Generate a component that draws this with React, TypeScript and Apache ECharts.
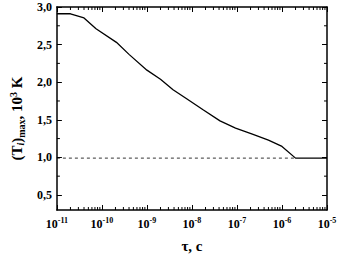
import React, { useEffect, useRef } from "react";
import * as echarts from "echarts";

// τ, s  and (T_i)_max, 10^3 K
const tau = [1e-11, 2e-11, 4e-11, 7.4e-11, 2.1e-10, 4e-10, 1e-9, 2e-9, 3.8e-9, 7.2e-9, 1.8e-8, 4.2e-8, 9.3e-8, 2.2e-7, 5e-7, 1e-6, 2e-6, 1e-5];
const tMax = [2.91, 2.91, 2.855, 2.71, 2.53, 2.37, 2.16, 2.04, 1.9, 1.79, 1.63, 1.485, 1.39, 1.31, 1.23, 1.146, 0.99, 0.99];
const refTau = [1e-11, 2e-6];
const refT = [0.99, 0.99];
const xDecades = [-11, -10, -9, -8, -7, -6, -5];
const minorMult = [2, 3, 4, 5, 6, 7, 8, 9];
const yTicks = [0.5, 1, 1.5, 2, 2.5, 3];
const yMinor = [0.75, 1.25, 1.75, 2.25, 2.75];
const Y_MIN = 0.3;
const Y_MAX = 3.0;
const X_MIN = -11;
const X_MAX = -5;

const FONT = "Liberation Serif";

export default function App() {
  const ref = useRef<HTMLDivElement>(null);
  useEffect(() => {
    if (!ref.current) return;
    const chart = echarts.init(ref.current, undefined, { renderer: "svg" });
    const xMinor: number[][] = [];
    xDecades.slice(0, -1).forEach((d) => minorMult.forEach((m) => xMinor.push([d + Math.log10(m), Y_MIN])));
    const yMinorData = yMinor.map((v) => [X_MIN, v]);
    const lineData = tau.map((t, i) => [Math.log10(t), tMax[i]]);
    const refData = refTau.map((t, i) => [Math.log10(t), refT[i]]);
    const tickStyle = { color: "#000", width: 1 };
    chart.setOption({
      animation: false,
      backgroundColor: "#fff",
      grid: { left: 49, right: 13, top: 7, bottom: 47 },
      xAxis: [
        {
          type: "value",
          min: X_MIN,
          max: X_MAX,
          interval: 1,
          axisLine: { show: true, lineStyle: { color: "#000", width: 1.5 } },
          axisTick: { show: true, inside: true, length: 5, lineStyle: tickStyle },
          splitLine: { show: false },
          axisLabel: {
            margin: 6,
            fontFamily: FONT,
            fontWeight: "bold",
            fontSize: 12,
            color: "#000",
            formatter: (v: number) => `{b|10}{s|${Math.round(v)}}`,
            rich: {
              b: { fontFamily: FONT, fontWeight: "bold", fontSize: 12, color: "#000" },
              s: { fontFamily: FONT, fontWeight: "bold", fontSize: 8, color: "#000", padding: [0, 0, 7, 0] },
            },
          },
          name: "τ, c",
          nameLocation: "middle",
          nameGap: 28,
          nameTextStyle: { fontFamily: FONT, fontWeight: "bold", fontSize: 15, color: "#000" },
        },
        {
          type: "value",
          position: "top",
          min: X_MIN,
          max: X_MAX,
          interval: 1,
          axisLine: { show: true, lineStyle: { color: "#000", width: 1.5 } },
          axisTick: { show: true, inside: true, length: 5, lineStyle: tickStyle },
          axisLabel: { show: false },
          splitLine: { show: false },
        },
      ],
      yAxis: [
        {
          type: "value",
          min: Y_MIN,
          max: Y_MAX,
          axisLine: { show: true, lineStyle: { color: "#000", width: 1.5 } },
          axisTick: { show: true, inside: true, length: 5, lineStyle: tickStyle, customValues: yTicks },
          splitLine: { show: false },
          axisLabel: {
            margin: 5,
            customValues: yTicks,
            fontFamily: FONT,
            fontWeight: "bold",
            fontSize: 12,
            color: "#000",
            formatter: (v: number) => v.toFixed(1).replace(".", ","),
          },
          name: "{p|(T}{i|i}{p|)}{m|max}{p|, 10}{s|3}{p| K}",
          nameLocation: "middle",
          nameRotate: 90,
          nameGap: 29,
          nameTextStyle: {
            fontFamily: FONT,
            fontWeight: "bold",
            fontSize: 15,
            color: "#000",
            padding: [0, 20, 0, 0],
            rich: {
              p: { fontFamily: FONT, fontWeight: "bold", fontSize: 15, color: "#000" },
              i: { fontFamily: FONT, fontWeight: "bold", fontStyle: "italic", fontSize: 10, color: "#000", padding: [6, 0, 0, 0] },
              m: { fontFamily: FONT, fontWeight: "bold", fontSize: 10, color: "#000", padding: [8, 0, 0, 0] },
              s: { fontFamily: FONT, fontWeight: "bold", fontSize: 10, color: "#000", padding: [0, 0, 8, 0] },
            },
          },
        },
        {
          type: "value",
          position: "right",
          min: Y_MIN,
          max: Y_MAX,
          axisLine: { show: true, lineStyle: { color: "#000", width: 1.5 } },
          axisTick: { show: true, inside: true, length: 5, lineStyle: tickStyle, customValues: yTicks },
          axisLabel: { show: false },
          splitLine: { show: false },
        },
      ],
      series: [
        {
          type: "line",
          data: refData,
          showSymbol: false,
          lineStyle: { color: "#000", width: 0.8, type: [3, 3] },
          silent: true,
        },
        {
          type: "line",
          data: lineData,
          showSymbol: false,
          lineStyle: { color: "#000", width: 1.3 },
          silent: true,
        },
        {
          type: "custom",
          data: xMinor,
          silent: true,
          clip: false,
          renderItem: (params: any, api: any) => {
            const x = api.value(0);
            const b = api.coord([x, Y_MIN]);
            const t = api.coord([x, Y_MAX]);
            return {
              type: "group",
              children: [
                { type: "line", shape: { x1: b[0], y1: b[1], x2: b[0], y2: b[1] - 3 }, style: { stroke: "#000", lineWidth: 1 } },
                { type: "line", shape: { x1: t[0], y1: t[1], x2: t[0], y2: t[1] + 3 }, style: { stroke: "#000", lineWidth: 1 } },
              ],
            };
          },
        },
        {
          type: "custom",
          data: yMinorData,
          silent: true,
          clip: false,
          renderItem: (params: any, api: any) => {
            const y = api.value(1);
            const l = api.coord([X_MIN, y]);
            const r = api.coord([X_MAX, y]);
            return {
              type: "group",
              children: [
                { type: "line", shape: { x1: l[0], y1: l[1], x2: l[0] + 3, y2: l[1] }, style: { stroke: "#000", lineWidth: 1 } },
                { type: "line", shape: { x1: r[0], y1: r[1], x2: r[0] - 3, y2: r[1] }, style: { stroke: "#000", lineWidth: 1 } },
              ],
            };
          },
        },
      ],
    });
    return () => chart.dispose();
  }, []);
  return <div ref={ref} style={{ width: 340, height: 258, position: "fixed", left: 0, top: 0 }} />;
}
